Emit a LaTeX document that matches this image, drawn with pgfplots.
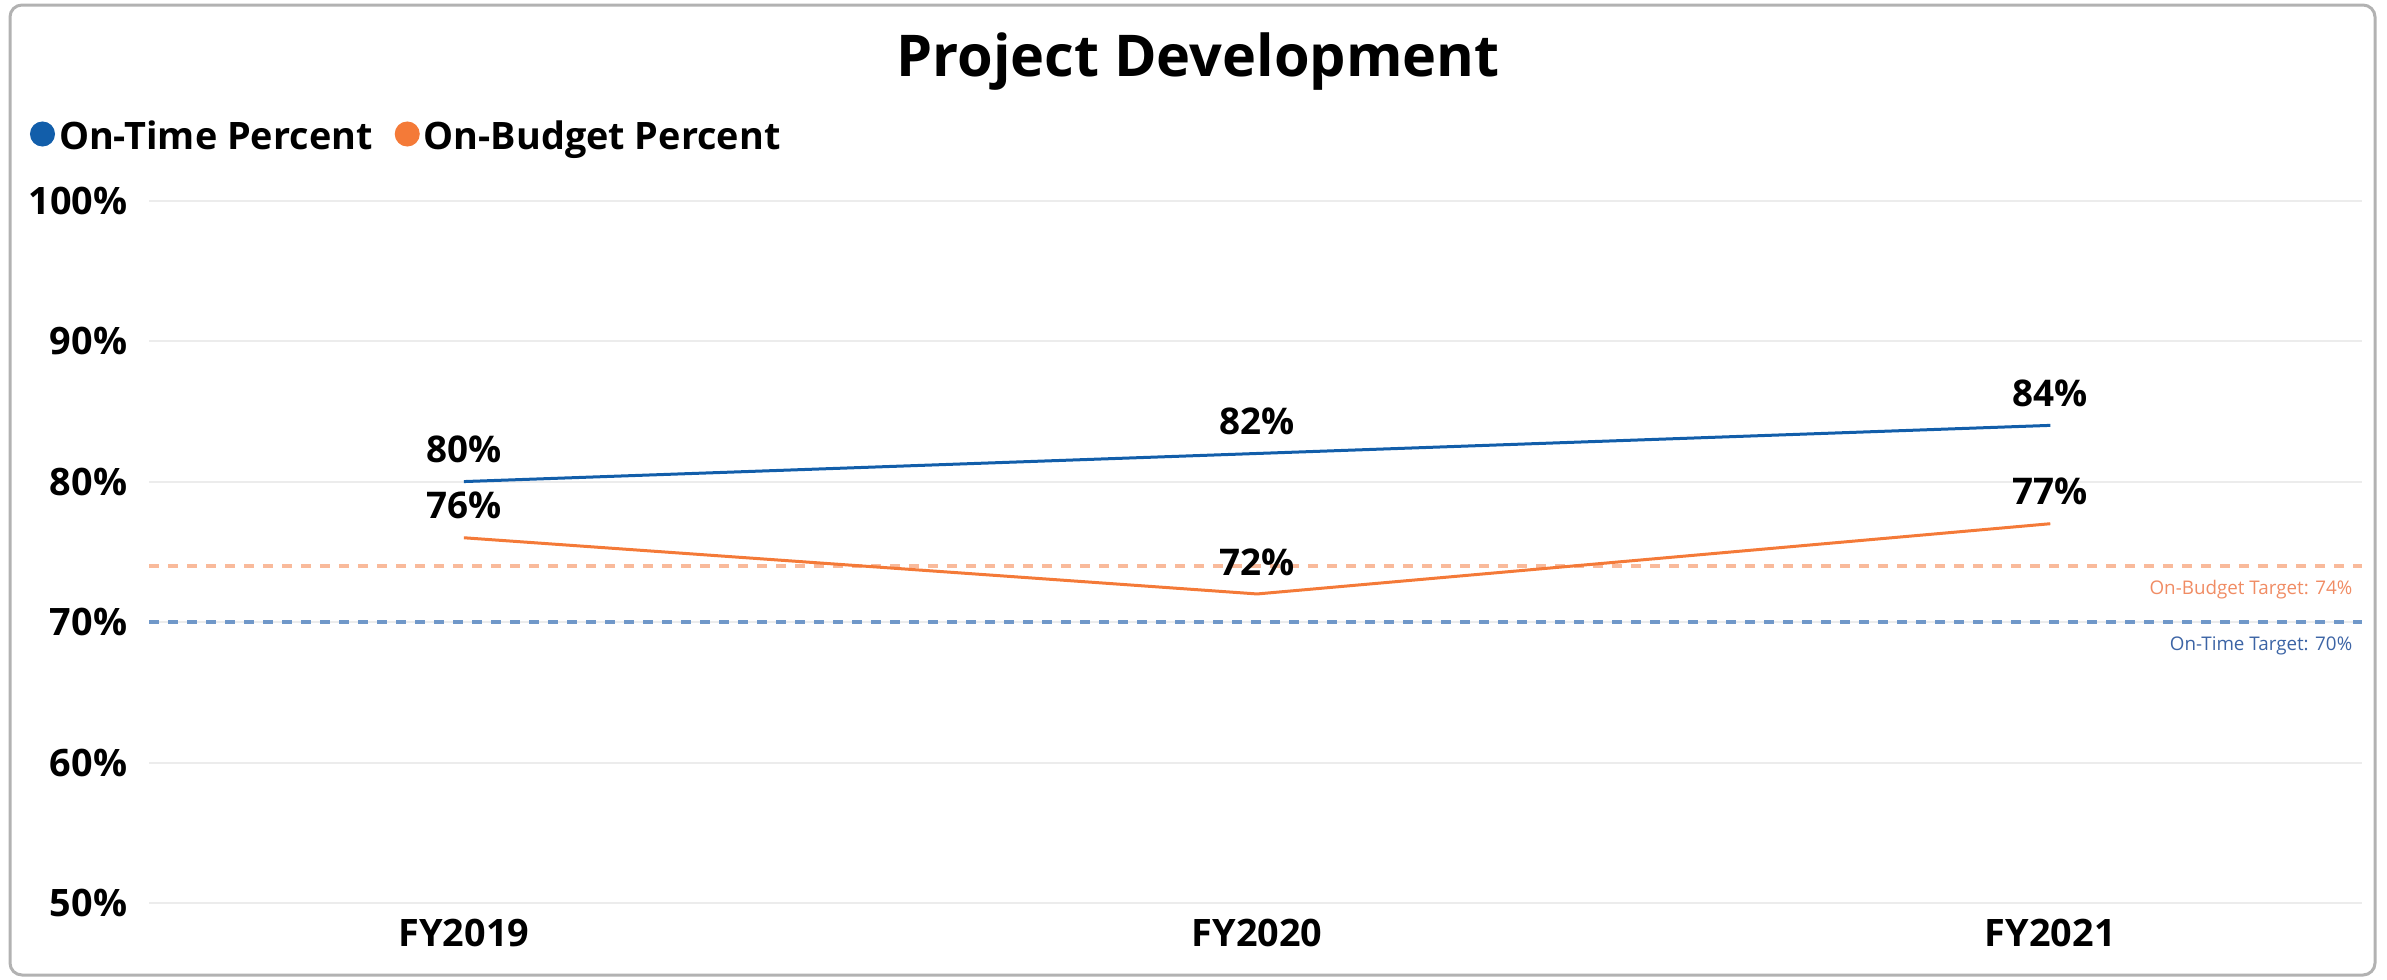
\documentclass[border=0pt]{standalone}
\usepackage{fontspec}
\setmainfont{Open Sans}
\usepackage{pgfplots}
\usepackage{pgfplotstable}
\pgfplotsset{compat=1.18}
\definecolor{otblue}{RGB}{18,94,170}
\definecolor{oborange}{RGB}{244,122,56}
\definecolor{tgorange}{RGB}{249,186,155}
\definecolor{tgblue}{RGB}{112,152,201}
\definecolor{tglblue}{RGB}{60,100,165}
\definecolor{tglorange}{RGB}{240,140,100}
\definecolor{gridc}{RGB}{236,236,236}

\pgfplotstableread{
x ontime onbudget
0 80 76
1 82 72
2 84 77
}\datatable

\begin{document}
\begin{tikzpicture}
\path[use as bounding box] (0,0) rectangle (596.75pt,244.75pt);
\draw[gray!60, line width=0.75pt, rounded corners=3pt] (2.5pt,1pt) rectangle (593.75pt,243.5pt);
\node[font=\bfseries\fontsize{14.4}{16}\selectfont, anchor=base, inner sep=0pt] at (299.5pt,225.75pt) {Project Development};
\begin{axis}[
  at={(37.25pt,19pt)}, anchor=south west,
  scale only axis, width=553.25pt, height=175.6pt,
  xmin=-0.397, xmax=2.393, ymin=50, ymax=100,
  axis line style={draw=none}, major tick length=0pt,
  xtick={0,1,2}, xticklabels={FY2019,FY2020,FY2021},
  ytick={50,60,...,100},
  ymajorgrids, grid style={gridc, line width=0.5pt},
  /pgf/number format/assume math mode=true,
  yticklabel={\pgfmathprintnumber{\tick}\%},
  yticklabel style={anchor=east, inner sep=0pt, xshift=-5.25pt, font=\bfseries\fontsize{9.45}{11}\selectfont},
  xticklabel style={anchor=north, inner sep=0pt, yshift=-3.9pt, font=\bfseries\fontsize{9.45}{11}\selectfont},
  clip=false,
  legend image code/.code={\fill[#1] (2.75pt,4pt) circle (2.75pt);},
  legend style={at={(-0.053773,1.1219)}, anchor=north west, draw=none, fill=none,
    inner sep=0pt, outer sep=0pt, legend columns=-1,
    cells={anchor=base west, text height=6.75pt, text depth=0pt, inner sep=0pt, font=\bfseries\fontsize{9.45}{11}\selectfont},
    /tikz/every odd column/.append style={column sep=-1pt},
    /tikz/every even column/.append style={column sep=3.5pt}},
  nodes near coords={\pgfmathprintnumber{\pgfplotspointmeta}\%},
  nodes near coords style={anchor=south, inner sep=0pt, yshift=4.25pt, text=black, font=\bfseries\fontsize{9.2}{11}\selectfont},
]
\addplot[tgorange, line width=1pt, dash pattern=on 2.5pt off 2.25pt, forget plot, nodes near coords={}] coordinates {(-0.397,74) (2.393,74)};
\addplot[tgblue, line width=1pt, dash pattern=on 2.5pt off 2.25pt, forget plot, nodes near coords={}] coordinates {(-0.397,70) (2.393,70)};
\addplot[otblue, line width=0.75pt, mark=none, point meta=y] table[x=x,y=ontime]{\datatable};
\addlegendentry{On-Time Percent}
\addplot[oborange, line width=0.75pt, mark=none, point meta=y] table[x=x,y=onbudget]{\datatable};
\addlegendentry{On-Budget Percent}
\end{axis}
\node[font=\fontsize{4.7}{5}\selectfont, text=tglorange, anchor=base east, inner sep=0pt] at (588.25pt,96.25pt) {On-Budget Target: 74\%};
\node[font=\fontsize{4.7}{5}\selectfont, text=tglblue, anchor=base east, inner sep=0pt] at (588.25pt,82.25pt) {On-Time Target: 70\%};
\end{tikzpicture}
\end{document}
